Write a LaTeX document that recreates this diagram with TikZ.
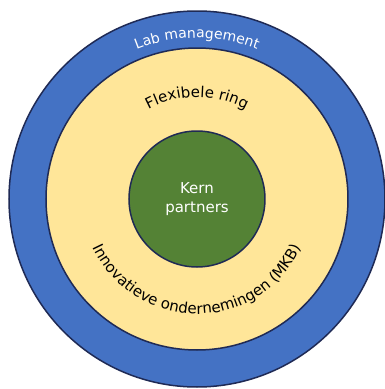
\documentclass[tikz,border=0pt]{standalone}
\usepackage{fontspec}
\setsansfont{DejaVu Sans}
\usetikzlibrary{decorations.text}
\definecolor{mgmtblue}{HTML}{4472C4}
\definecolor{ringyellow}{HTML}{FFE699}
\definecolor{coregreen}{HTML}{548235}
\definecolor{outline}{HTML}{1F2A55}
\tikzset{
    % Ring style
    ring/.style={
        circle,
        draw=outline,
        fill=#1,
        line width=1.5pt,
        inner sep=0pt
    },
    % Text following an arc
    arc text/.style={
        decorate,
        decoration={text along path, text align=center, text={#1}}
    }
}
\begin{document}
\begin{tikzpicture}[x=1pt, y=1pt]
        \useasboundingbox (-197,-190) rectangle (188,199);

        % Rings
        \node[ring=mgmtblue, minimum size=376pt] (mgmt) at (0,0) {};
        \node[ring=ringyellow, minimum size=302pt] (flex) at (0,0) {};
        \node[ring=coregreen, minimum size=136pt, text=white, align=center,
              font=\sffamily\fontsize{15}{19}\selectfont] (core) at (0,0) {Kern\\partners};

        % Arc labels
        \path[arc text={|\sffamily\fontsize{14}{16}\selectfont\color{white}|Lab management}]
            (170:161pt) arc[start angle=170, end angle=10, radius=161pt];
        \path[arc text={|\sffamily\fontsize{15}{18}\selectfont|Flexibele ring}]
            (170:102pt) arc[start angle=170, end angle=10, radius=102pt];
        \path[arc text={|\sffamily\fontsize{15}{18}\selectfont|Innovatieve ondernemingen (MKB)}]
            (190:115pt) arc[start angle=190, end angle=350, radius=115pt];
\end{tikzpicture}
\end{document}
